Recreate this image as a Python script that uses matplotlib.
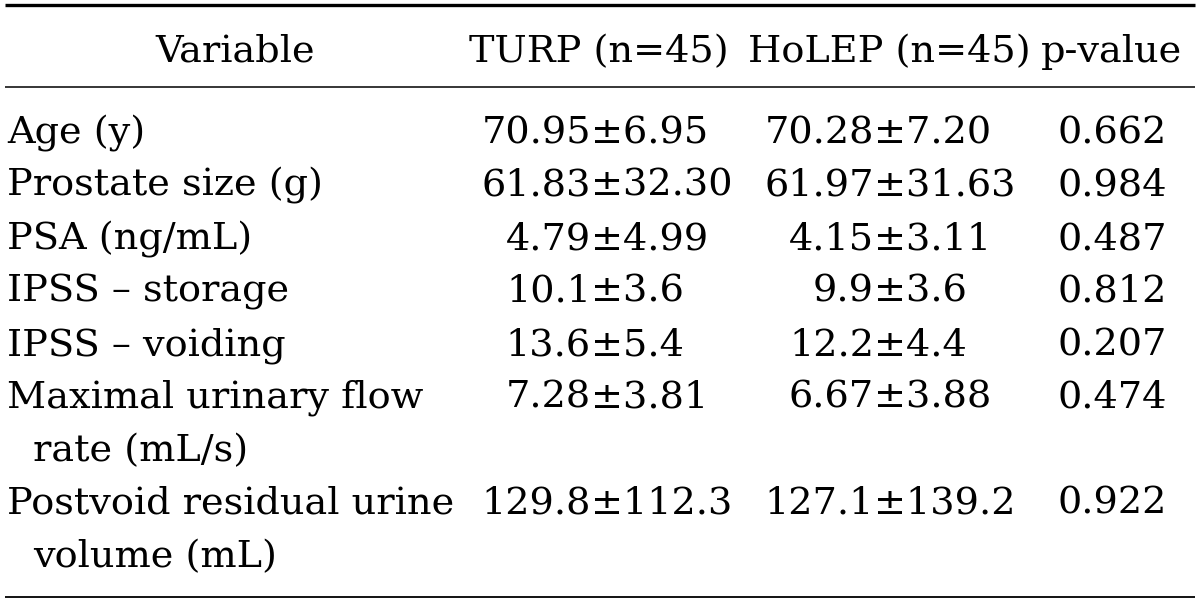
import matplotlib.pyplot as plt

variables = [
    ["Age (y)"],
    ["Prostate size (g)"],
    ["PSA (ng/mL)"],
    ["IPSS – storage"],
    ["IPSS – voiding"],
    ["Maximal urinary flow", "rate (mL/s)"],
    ["Postvoid residual urine", "volume (mL)"],
]
turp = ["70.95±6.95", "61.83±32.30", "4.79±4.99", "10.1±3.6",
        "13.6±5.4", "7.28±3.81", "129.8±112.3"]
holep = ["70.28±7.20", "61.97±31.63", "4.15±3.11", "9.9±3.6",
         "12.2±4.4", "6.67±3.88", "127.1±139.2"]
p_values = ["0.662", "0.984", "0.487", "0.812", "0.207", "0.474", "0.922"]
headers = ["Variable", "TURP (n=45)", "HoLEP (n=45)", "p-value"]

plt.rcParams['font.family'] = ['DejaVu Serif']
fs = 27.5

fig = plt.figure(figsize=(12, 6.02), dpi=100)
ax = fig.add_axes([0, 0, 1, 1])
ax.set_xlim(0, 1200)
ax.set_ylim(602, 0)
ax.axis("off")

# rules
ax.plot([5, 1195], [5, 5], color="black", lw=2.4, solid_capstyle="butt")
ax.plot([5, 1195], [87, 87], color="black", lw=1.1, solid_capstyle="butt")
ax.plot([5, 1195], [597, 597], color="black", lw=1.3, solid_capstyle="butt")

# header
header_x = [235, 599, 889, 1111]
for hx, h in zip(header_x, headers):
    ax.text(hx, 62, h, fontsize=fs, ha="center", va="baseline")

first_base = 143
step = 53
pm_x = [591, 874]  # where the "±" starts in each group column

line = 0
for i, lab in enumerate(variables):
    y = first_base + line * step
    for k, part in enumerate(lab):
        ax.text(7 if k == 0 else 33, y + k * step, part,
                fontsize=fs, ha="left", va="baseline")
    for px, val in zip(pm_x, [turp[i], holep[i]]):
        left, right = val.split("±")
        ax.text(px, y, left, fontsize=fs, ha="right", va="baseline")
        ax.text(px, y, "±" + right, fontsize=fs, ha="left", va="baseline")
    ax.text(1112, y, p_values[i], fontsize=fs, ha="center", va="baseline")
    line += len(lab)

fig.savefig("out.png", dpi=100, facecolor="white")
